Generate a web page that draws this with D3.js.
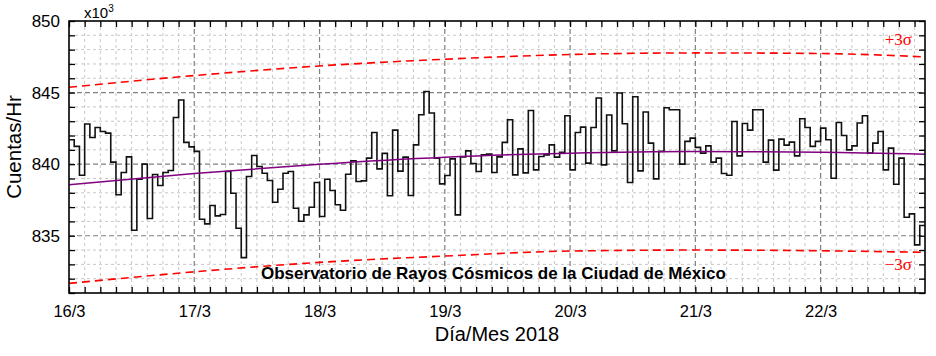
<!DOCTYPE html>
<html><head><meta charset="utf-8">
<script src="https://cdn.jsdelivr.net/npm/d3@7"></script>
<style>body{margin:0;background:#fff}svg{display:block}</style>
</head><body>
<svg id="c" width="936" height="356"></svg>
<script>
// hourly counts (x10^3) starting 16/3 00:00
const counts = [841.70,841.24,839.23,842.80,841.86,842.56,842.28,842.17,840.14,837.86,839.42,840.51,835.38,838.95,840.00,836.20,839.28,838.51,839.42,839.56,843.26,844.48,841.52,841.21,
840.89,836.15,835.83,837.11,836.39,836.48,839.49,837.97,835.52,833.47,839.14,840.61,839.84,839.37,838.86,837.34,838.25,839.37,839.49,836.92,836.01,836.46,836.99,838.72,
836.34,838.95,838.16,837.16,836.78,839.30,840.23,838.79,838.83,840.42,842.21,839.67,840.75,837.79,842.38,839.51,840.49,837.81,841.35,843.45,845.08,843.57,840.42,838.62,
839.21,840.37,836.46,840.51,840.93,840.05,839.49,840.65,840.70,839.42,840.51,841.52,843.10,839.25,841.07,839.39,843.75,839.60,840.54,840.65,841.35,840.49,840.82,843.38,
839.60,842.21,842.59,840.07,842.56,844.62,839.95,843.43,840.93,844.97,842.82,838.72,844.71,839.53,843.64,841.47,838.97,840.89,843.94,843.80,843.80,840.00,841.59,841.82,
841.17,840.77,841.28,840.14,840.42,839.35,839.23,842.98,840.58,842.84,842.38,843.80,843.80,840.14,841.68,839.58,841.75,841.33,841.54,840.58,843.17,842.56,841.24,841.59,
842.52,841.70,839.02,842.91,842.00,841.00,841.28,842.87,843.38,840.77,841.47,842.28,839.60,841.12,838.60,840.42,836.29,836.53,834.36,835.71];
// smooth fit and ±3σ band, sampled at day positions (hours)
const fitHours = [0,24,48,72,96,120,144,164];
const fitValues = [838.57,839.35,840.00,840.49,840.77,840.88,840.84,840.70];
const upperValues = [845.37,846.19,846.86,847.33,847.66,847.77,847.73,847.49];
const lowerValues = [831.67,832.48,833.14,833.58,833.93,834.00,833.95,833.84];
const dayTicks = [0,24,48,72,96,120,144];
const dayLabels = ["16/3","17/3","18/3","19/3","20/3","21/3","22/3"];
const yTicks = [835,840,845,850];

const svg = d3.select("#c");
const m = {l:69, r:11, t:21, b:63};
const W = 936 - m.l - m.r, H = 356 - m.t - m.b;
const x = d3.scaleLinear().domain([0,164]).range([m.l, m.l+W]);
const y = d3.scaleLinear().domain([831,850]).range([m.t+H, m.t]);
const font = "Liberation Sans, Arial, Helvetica, sans-serif";

const g = svg.append("g");
// minor grid
const minorX = d3.range(3,164,3).filter(h => h%24 !== 0);
const minorY = d3.range(832,850,1).filter(v => v%5 !== 0);
g.selectAll(".mx").data(minorX).enter().append("line")
  .attr("x1", d=>x(d)).attr("x2", d=>x(d)).attr("y1", m.t).attr("y2", m.t+H)
  .attr("stroke","#c8c8c8").attr("stroke-width",1).attr("stroke-dasharray","3,3");
g.selectAll(".my").data(minorY).enter().append("line")
  .attr("x1", m.l).attr("x2", m.l+W).attr("y1", d=>y(d)).attr("y2", d=>y(d))
  .attr("stroke","#c8c8c8").attr("stroke-width",1).attr("stroke-dasharray","3,3");
// major grid
g.selectAll(".Mx").data(dayTicks.slice(1)).enter().append("line")
  .attr("x1", d=>x(d)).attr("x2", d=>x(d)).attr("y1", m.t).attr("y2", m.t+H)
  .attr("stroke","#808080").attr("stroke-width",1.2).attr("stroke-dasharray","5,3");
g.selectAll(".My").data([835,840,845]).enter().append("line")
  .attr("x1", m.l).attr("x2", m.l+W).attr("y1", d=>y(d)).attr("y2", d=>y(d))
  .attr("stroke","#808080").attr("stroke-width",1.2).attr("stroke-dasharray","5,3");

// sigma band lines
const smooth = d3.line().x(d=>x(d[0])).y(d=>y(d[1])).curve(d3.curveMonotoneX);
svg.append("clipPath").attr("id","clip").append("rect").attr("x",m.l).attr("y",m.t).attr("width",W).attr("height",H);
const pl = svg.append("g").attr("clip-path","url(#clip)");
pl.append("path").attr("d", smooth(fitHours.map((h,i)=>[h,upperValues[i]])))
  .attr("fill","none").attr("stroke","#ff0000").attr("stroke-width",1.6).attr("stroke-dasharray","8,5");
pl.append("path").attr("d", smooth(fitHours.map((h,i)=>[h,lowerValues[i]])))
  .attr("fill","none").attr("stroke","#ff0000").attr("stroke-width",1.6).attr("stroke-dasharray","8,5");
// step data
const pts = counts.map((v,i)=>[i,v]); pts.push([counts.length, counts[counts.length-1]]);
pl.append("path").attr("d", d3.line().x(d=>x(d[0])).y(d=>y(d[1])).curve(d3.curveStepAfter)(pts))
  .attr("fill","none").attr("stroke","#111").attr("stroke-width",1.6);
// fit
pl.append("path").attr("d", smooth(fitHours.map((h,i)=>[h,fitValues[i]])))
  .attr("fill","none").attr("stroke","#800080").attr("stroke-width",1.5);

// axes
const tickH = d3.range(0,165,3);
const tickV = d3.range(831,851,1);
function styleAxis(sel){ sel.select(".domain").remove(); sel.selectAll("line").attr("stroke","#000").attr("stroke-width",1.3); sel.selectAll("text").attr("font-family",font).attr("fill","#000"); }
const xb = svg.append("g").attr("transform",`translate(0,${m.t+H})`)
  .call(d3.axisBottom(x).tickValues(tickH).tickSizeInner(-6).tickSizeOuter(0).tickPadding(12)
    .tickFormat(d => { const k = dayTicks.indexOf(d); return k>=0 ? dayLabels[k] : ""; }));
styleAxis(xb); xb.selectAll("text").attr("font-size",16.5);
const xt = svg.append("g").attr("transform",`translate(0,${m.t})`)
  .call(d3.axisTop(x).tickValues(tickH).tickSizeInner(-6).tickSizeOuter(0).tickFormat(""));
styleAxis(xt);
const yl = svg.append("g").attr("transform",`translate(${m.l},0)`)
  .call(d3.axisLeft(y).tickValues(tickV).tickSizeInner(-6).tickSizeOuter(0).tickPadding(9)
    .tickFormat(d => yTicks.includes(d) ? String(d) : ""));
styleAxis(yl); yl.selectAll("text").attr("font-size",17);
const yr = svg.append("g").attr("transform",`translate(${m.l+W},0)`)
  .call(d3.axisRight(y).tickValues(tickV).tickSizeInner(-6).tickSizeOuter(0).tickFormat(""));
styleAxis(yr);
svg.append("rect").attr("x",m.l).attr("y",m.t).attr("width",W).attr("height",H)
  .attr("fill","none").attr("stroke","#000").attr("stroke-width",1.6);

// labels
const ex = svg.append("text").attr("x",84).attr("y",18).attr("font-family",font).attr("font-size",15).attr("fill","#000");
ex.append("tspan").text("x10");
ex.append("tspan").attr("font-size",10).attr("dy",-6).text("3");
svg.append("text").attr("transform","translate(21,147) rotate(-90)").attr("text-anchor","middle")
  .attr("font-family",font).attr("font-size",20.5).attr("fill","#000").text("Cuentas/Hr");
svg.append("text").attr("x",497).attr("y",341).attr("text-anchor","middle")
  .attr("font-family",font).attr("font-size",20).attr("fill","#000").text("Día/Mes 2018");
svg.append("text").attr("x",261).attr("y",279).attr("font-family",font).attr("font-weight","bold")
  .attr("font-size",17).attr("fill","#000").text("Observatorio de Rayos Cósmicos de la Ciudad de México");
svg.append("text").attr("x",912).attr("y",45).attr("text-anchor","end").attr("font-family","Liberation Serif, Times New Roman, serif")
  .attr("font-size",17).attr("fill","#ff0000").text("+3σ");
svg.append("text").attr("x",912).attr("y",270).attr("text-anchor","end").attr("font-family","Liberation Serif, Times New Roman, serif")
  .attr("font-size",17).attr("fill","#ff0000").text("−3σ");
</script>
</body></html>
